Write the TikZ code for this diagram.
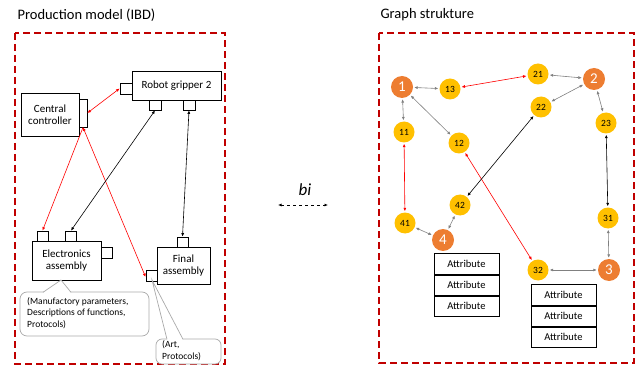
\documentclass[tikz,border=0pt]{standalone}
\usepackage{fontspec}
\setmainfont{Carlito}
\usetikzlibrary{positioning,arrows.meta}

\definecolor{framered}{RGB}{192,0,0}
\definecolor{huborange}{RGB}{237,125,49}
\definecolor{leafyellow}{RGB}{255,192,0}
\definecolor{linkgray}{RGB}{128,128,128}
\definecolor{notegray}{RGB}{170,170,170}

\tikzset{
  frame/.style={draw=framered, line width=1.3pt, dash pattern=on 7pt off 4pt},
  ibdbox/.style={draw, line width=0.8pt, fill=white, align=center, font=\fontsize{11}{12.5}\selectfont, inner sep=0pt},
  port/.style={draw, line width=0.8pt, fill=white, inner sep=0pt},
  link/.style={{Latex[length=3.5pt,width=3pt]}-{Latex[length=3.5pt,width=3pt]}, line width=0.6pt},
  onelink/.style={-{Latex[length=3.5pt,width=3pt]}, line width=0.6pt},
  hub/.style={circle, fill=huborange, text=white, minimum size=22pt, inner sep=0pt, font=\fontsize{15}{15}\selectfont},
  leaf/.style={circle, fill=leafyellow, minimum size=21pt, inner sep=0pt, font=\fontsize{9.5}{10}\selectfont},
  glink/.style={link, draw=linkgray, shorten <=1pt, shorten >=1pt},
  attrrow/.style={draw, line width=0.8pt, minimum width=65pt, minimum height=20.3pt, inner sep=0pt, font=\fontsize{10.5}{11}\selectfont},
  note/.style={draw=notegray, line width=0.7pt},
  notetext/.style={anchor=north west, align=left, inner sep=0pt, font=\fontsize{9.5}{11.5}\selectfont}
}

\begin{document}
\begin{tikzpicture}[x=1pt,y=-1pt]
  \useasboundingbox (0,0) rectangle (642,366);

  % titles
  \node[anchor=west, font=\fontsize{14.5}{14.5}\selectfont] (titleL) at (14,15) {Production model (IBD)};
  \node[anchor=west, font=\fontsize{14.5}{14.5}\selectfont] (titleR) at (377,15) {Graph strukture};

  % frames
  \draw[frame] (15,33) rectangle (225,364);
  \draw[frame] (379,33) rectangle (634,363);

  % ---- production model ----
  \node[ibdbox, minimum width=58pt, minimum height=43pt] (cc) at (50,114.5) {Central\\controller};
  \node[ibdbox, minimum width=89pt, minimum height=29pt] (rg) at (176.5,85.5) {Robot gripper 2};
  \node[ibdbox, minimum width=69pt, minimum height=39pt] (ea) at (66.5,260.5) {Electronics\\assembly};
  \node[ibdbox, minimum width=53pt, minimum height=37pt] (fa) at (183.5,265.5) {Final\\assembly};

  \node[port, minimum width=8pt, minimum height=28pt] (pcc) at (83,113) {};
  \node[port, minimum width=12pt, minimum height=11pt] (prgl) at (126,88.5) {};
  \node[port, minimum width=12pt, minimum height=10pt] (prg1) at (155,105) {};
  \node[port, minimum width=12pt, minimum height=10pt] (prg2) at (189,105) {};
  \node[port, minimum width=11pt, minimum height=10pt] (pea1) at (42.5,236) {};
  \node[port, minimum width=11pt, minimum height=10pt] (pea2) at (71,236) {};
  \node[port, minimum width=11pt, minimum height=11pt] (pear) at (106.5,252.5) {};
  \node[port, minimum width=11pt, minimum height=10pt] (pfat) at (182.5,242) {};
  \node[port, minimum width=11pt, minimum height=11pt] (pfal) at (151.5,275.5) {};

  \draw[link, red] (pcc.east) -- (prgl.west);
  \draw[onelink, red] (pcc.south) -- (pea1.north);
  \draw[link, red] (pcc.south) -- ([yshift=-1.5pt]pfal.west);
  \draw[link] (prg1.south) -- (pea2.north);
  \draw[link] (prg2.south) -- (pfat.north);

  % notes
  \coordinate (tipA) at (61,280);
  \coordinate (tipB) at (152,280);
  \draw[note, fill=white, rounded corners=7pt] (20,292) rectangle (149,336);
  \fill[white] (43,293) -- (tipA) -- (71,293) -- cycle;
  \draw[note] (43,292.3) -- (tipA) -- (71,292.3);
  \node[notetext] (noteA) at (27,297) {(Manufactory parameters,\\Descriptions of functions,\\Protocols)};

  \draw[note, fill=white, rounded corners=6pt] (156,339) rectangle (221,364);
  \fill[white] (167,340) -- (tipB) -- (183,340) -- cycle;
  \draw[note] (167,339.3) -- (tipB) -- (183,339.3);
  \node[notetext] (noteB) at (162,340.5) {(Art,\\Protocols)};

  % bidirectional mapping
  \node[font=\fontsize{17}{17}\itshape] (bi) at (305,190) {bi};
  \coordinate (biL) at (278,205);
  \coordinate (biR) at (328,205);
  \draw[link, dashed, line width=0.7pt] (biL) -- (biR);

  % ---- graph ----
  \node[hub] (n1) at (402,87) {1};
  \node[hub] (n2) at (594,79) {2};
  \node[hub] (n3) at (609,270) {3};
  \node[hub] (n4) at (443,240) {4};
  \node[leaf] (n11) at (404,132) {11};
  \node[leaf] (n12) at (459,143) {12};
  \node[leaf] (n13) at (450,89) {13};
  \node[leaf] (n21) at (538,74) {21};
  \node[leaf] (n22) at (541,107) {22};
  \node[leaf] (n23) at (606,123) {23};
  \node[leaf] (n31) at (608,218) {31};
  \node[leaf] (n32) at (538,270) {32};
  \node[leaf] (n41) at (405,223) {41};
  \node[leaf] (n42) at (460,205) {42};

  \draw[glink] (n1) -- (n13);
  \draw[glink] (n1) -- (n11);
  \draw[glink] (n1) -- (n12);
  \draw[glink] (n21) -- (n2);
  \draw[glink] (n2) -- (n22);
  \draw[glink] (n2) -- (n23);
  \draw[glink] (n41) -- (n4);
  \draw[glink] (n4) -- (n42);
  \draw[glink] (n31) -- (n3);
  \draw[glink] (n32) -- (n3);
  \draw[link, red, shorten <=1pt, shorten >=1pt] (n13) -- (n21);
  \draw[link, red, shorten <=1pt, shorten >=1pt] (n11) -- (n41);
  \draw[link, red, shorten <=1pt, shorten >=1pt] (n12) -- (n32);
  \draw[link, shorten <=1pt, shorten >=1pt] (n22) -- (n42);
  \draw[link, shorten <=1pt, shorten >=1pt] (n23) -- (n31);

  % attribute tables
  \node[attrrow] (a41) at (466.5,264) {Attribute};
  \node[attrrow, below=0pt of a41] (a42) {Attribute};
  \node[attrrow, below=0pt of a42] (a43) {Attribute};
  \node[attrrow] (a31) at (563.5,295) {Attribute};
  \node[attrrow, below=0pt of a31] (a32) {Attribute};
  \node[attrrow, below=0pt of a32] (a33) {Attribute};
\end{tikzpicture}
\end{document}
